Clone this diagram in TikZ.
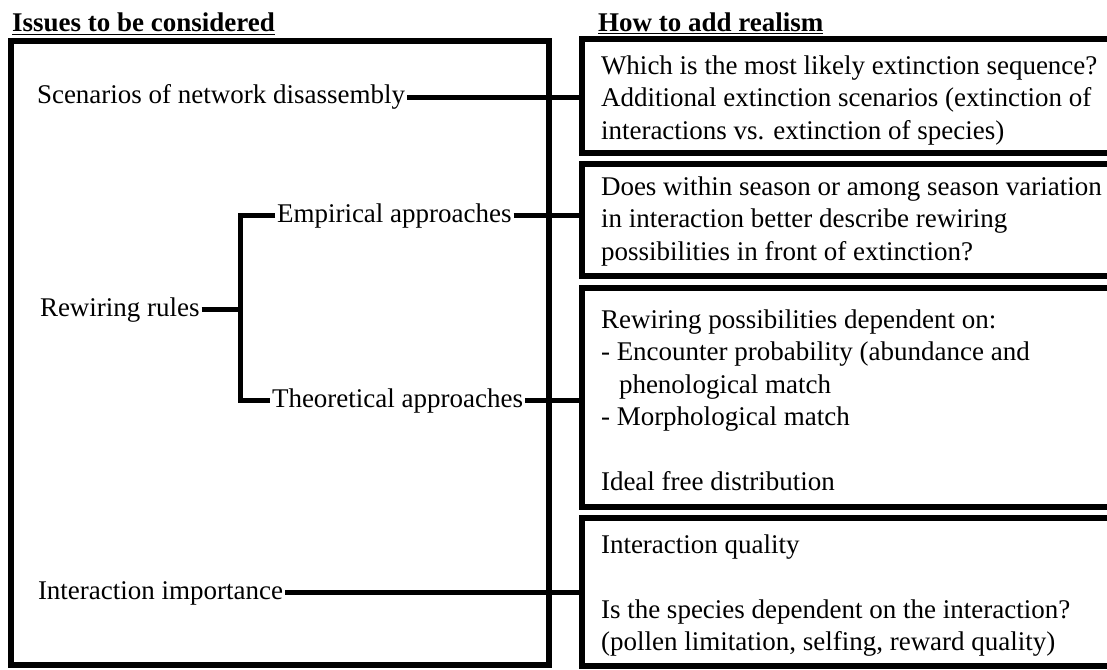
\documentclass[tikz,border=0pt]{standalone}
\usepackage{fontspec}
\setmainfont{Liberation Serif}
\begin{document}
\begin{tikzpicture}[x=1pt,y=-1pt,
  frame/.style={draw,line width=6pt,rectangle,inner sep=0pt,outer sep=0pt,anchor=north west},
  lbl/.style={font=\fontsize{27}{32.5}\selectfont,inner sep=2pt,outer sep=0pt,anchor=base west,text height=18.4pt,text depth=5.9pt},
  body/.style={font=\fontsize{27}{32.5}\selectfont,inner sep=0pt,outer sep=0pt,anchor=north west,align=left},
  title/.style={font=\fontsize{27}{32.5}\selectfont\bfseries,inner sep=0pt,anchor=base west},
  link/.style={line width=5pt}]
\useasboundingbox (0,0) rectangle (1107,669);
\clip (0,0) rectangle (1107,669);
% titles
\node[title] (t1) at (12,32) {\underline{Issues to be considered}};
\node[title] (t2) at (598,32) {\underline{How to add realism}};
% frames
\node[frame,minimum width=538pt,minimum height=624pt] (lb) at (11,41) {};
\node[frame,minimum width=540pt,minimum height=114pt] (b1) at (582,39) {};
\node[frame,minimum width=540pt,minimum height=112pt] (b2) at (582,164) {};
\node[frame,minimum width=540pt,minimum height=219pt] (b3) at (582,288) {};
\node[frame,minimum width=540pt,minimum height=148pt] (b4) at (582,518) {};
% left labels
\node[lbl] (scen) at (35,103.5) {Scenarios of network disassembly};
\node[lbl] (rew) at (38,316) {Rewiring rules};
\node[lbl] (emp) at (275,222) {Empirical approaches};
\node[lbl] (theo) at (270,407) {Theoretical approaches};
\node[lbl] (imp) at (36,599) {Interaction importance};
% right texts
\node[body] (x1) at (601,51.25) {\strut Which is the most likely extinction sequence?\\
Additional extinction scenarios (extinction of\\
interactions vs. extinction of species)};
\node[body] (x2) at (601,172.25) {\strut Does within season or among season variation\\
in interaction better describe rewiring\\
possibilities in front of extinction?};
\node[body] (x3) at (601,305.25) {\strut Rewiring possibilities dependent on:\\
- Encounter probability (abundance and\\
\hspace*{18pt}phenological match\\
- Morphological match\\
\mbox{}\\
Ideal free distribution};
\node[body] (x4) at (601,530.25) {\strut Interaction quality\\
\mbox{}\\
Is the species dependent on the interaction?\\
(pollen limitation, selfing, reward quality)};
% connectors
\coordinate (bx) at (240,0);
\draw[link] (scen.east) -- (scen.east -| b1.west);
\draw[link] (emp.east) -- (emp.east -| b2.west);
\draw[link] (theo.east) -- (theo.east -| b3.west);
\draw[link] (imp.east) -- (imp.east -| b4.west);
\draw[link] (rew.east) -- (rew.east -| bx);
\draw[link,line join=miter] (emp.west) -- (emp.west -| bx) -- (theo.west -| bx) -- (theo.west);
\end{tikzpicture}
\end{document}
